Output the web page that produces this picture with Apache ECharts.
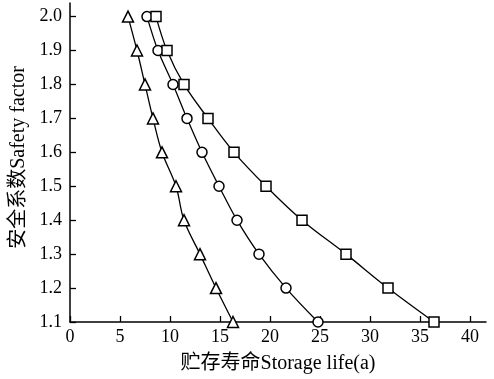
<!DOCTYPE html>
<html>
<head>
<meta charset="utf-8">
<script src="https://cdn.jsdelivr.net/npm/echarts@6/dist/echarts.min.js"></script>
<style>
html,body{margin:0;padding:0;background:#fff;}
#chart{width:494px;height:379px;}
</style>
</head>
<body>
<div id="chart"></div>
<script>
// 安全系数 (y) 与 贮存寿命 (x)
var factors = [2.0, 1.9, 1.8, 1.7, 1.6, 1.5, 1.4, 1.3, 1.2, 1.1];
var lifeTriangle = [5.8, 6.7, 7.5, 8.3, 9.2, 10.6, 11.4, 13.0, 14.6, 16.3];
var lifeCircle = [7.7, 8.8, 10.3, 11.7, 13.2, 14.9, 16.7, 18.9, 21.6, 24.8];
var lifeSquare = [8.6, 9.7, 11.4, 13.8, 16.4, 19.6, 23.2, 27.6, 31.8, 36.4];
var xTicks = [0, 5, 10, 15, 20, 25, 30, 35, 40];
var yTicks = [1.1, 1.2, 1.3, 1.4, 1.5, 1.6, 1.7, 1.8, 1.9, 2.0];

var fontFam = '"Liberation Serif", "Noto Sans CJK SC", serif';

function pairs(xs) {
	var out = [];
	for (var i = 0; i < xs.length; i++) {
		out.push([xs[i], factors[i]]);
	}
	return out;
}

function mkSeries(name, xs, symbol, size) {
	return {
		name: name,
		type: 'line',
		data: pairs(xs),
		smooth: 0.35,
		symbol: symbol,
		symbolSize: size,
		showAllSymbol: true,
		lineStyle: {color: '#000', width: 1.3},
		itemStyle: {color: '#fff', borderColor: '#000', borderWidth: 1.5},
		z: 3
	};
}

var myChart = echarts.init(document.getElementById('chart'));
var option = {
	animation: false,
	backgroundColor: '#fff',
	grid: {left: 70, right: 8, top: 3, bottom: 57},
	xAxis: {
		type: 'value',
		min: 0,
		max: 41.6,
		name: '贮存寿命Storage life(a)',
		nameLocation: 'middle',
		nameGap: 32,
		nameTextStyle: {color: '#000', fontSize: 20, fontFamily: fontFam},
		axisLine: {lineStyle: {color: '#000', width: 1.5}},
		axisTick: {inside: true, length: 6, customValues: xTicks, lineStyle: {color: '#000', width: 1.3}},
		axisLabel: {customValues: xTicks, color: '#000', fontSize: 18, fontFamily: fontFam, margin: 6},
		splitLine: {show: false}
	},
	yAxis: {
		type: 'value',
		min: 1.1,
		max: 2.04,
		name: '安全系数Safety factor',
		nameLocation: 'middle',
		nameGap: 35,
		nameTextStyle: {color: '#000', fontSize: 20, fontFamily: fontFam, padding: [0, 0, 0, 10]},
		axisLine: {lineStyle: {color: '#000', width: 1.5}},
		axisTick: {inside: true, length: 6, customValues: yTicks, lineStyle: {color: '#000', width: 1.3}},
		axisLabel: {
			customValues: yTicks,
			color: '#000', fontSize: 18, fontFamily: fontFam, margin: 8,
			formatter: function (v) { return v.toFixed(1); }
		},
		splitLine: {show: false}
	},
	series: [
		mkSeries('triangle', lifeTriangle, 'triangle', 11),
		mkSeries('circle', lifeCircle, 'circle', 10),
		mkSeries('square', lifeSquare, 'rect', 10)
	]
};
myChart.setOption(option);
</script>
</body>
</html>
